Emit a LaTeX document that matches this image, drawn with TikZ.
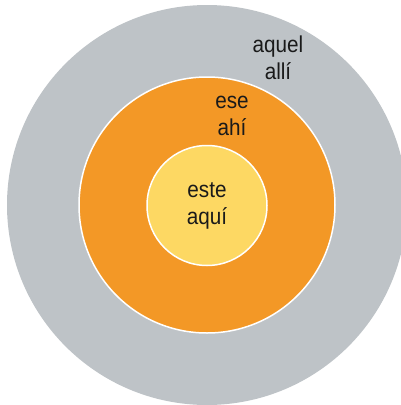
\documentclass[tikz,border=0pt]{standalone}
\usepackage{fontspec}
\setmainfont{Liberation Sans}[FakeStretch=0.9]
\definecolor{ringgray}{RGB}{190,195,199}
\definecolor{ringorange}{RGB}{243,152,38}
\definecolor{ringyellow}{RGB}{253,216,99}
\definecolor{txt}{RGB}{26,26,26}
\begin{document}
\begin{tikzpicture}[x=1pt,y=-1pt,
  ring/.style={circle, inner sep=0pt, draw=white, line width=1.5pt},
  lbl/.style={align=center, text=txt, inner sep=0pt, font=\fontsize{23}{27}\selectfont}]
\useasboundingbox (0,0) rectangle (401,405);
\clip (0,0) rectangle (401,405);
\node[ring, fill=ringgray, draw=none, minimum size=400pt] (outer) at (207,205) {};
\node[ring, fill=ringorange, minimum size=256pt] (middle) at (207,205) {};
\node[ring, fill=ringyellow, minimum size=120pt] (inner) at (207,205.5) {};
\node[lbl] (aquel) at (278,58) {aquel\\allí};
\node[lbl] (ese) at (232,116) {ese\\ahí};
\node[lbl] (este) at (207,206) {este\\aquí};
\end{tikzpicture}
\end{document}
